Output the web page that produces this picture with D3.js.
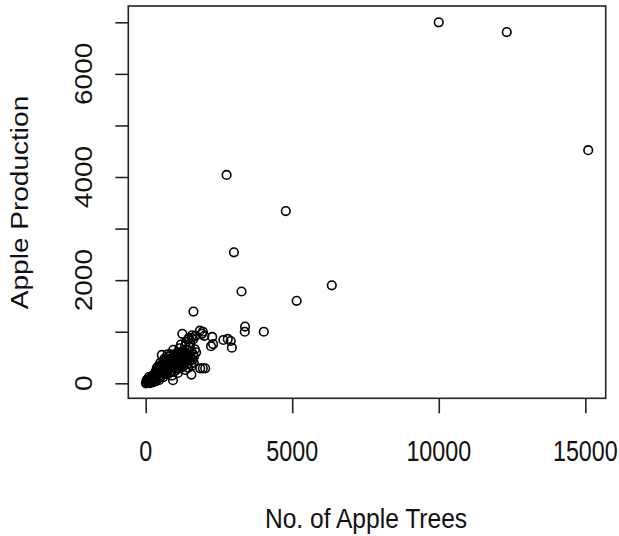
<!DOCTYPE html>
<html>
<head>
<meta charset="utf-8">
<script src="https://cdn.jsdelivr.net/npm/d3@7"></script>
<style>
  html, body { margin: 0; padding: 0; background: #fff; }
  svg { display: block; }
  text { font-family: "Liberation Sans", Arial, sans-serif; fill: #111; }
</style>
</head>
<body>
<svg id="chart" width="619" height="536"></svg>
<script>
// ---- data ----
const trees = [
  10000, 12320, 15100, 2760, 4780, 3010, 3270, 6350, 5150, 1630, 3380, 3390, 4030,
  1250, 1570, 1620, 1850, 1920, 2000, 2270, 2300, 2650, 2800, 2900, 2940, 1700, 1580, 1950, 2230,
  940, 550, 1860, 1950, 2030, 1560, 930,
  20, 40, 60, 80, 100, 120, 150, 170, 200, 220, 250, 270, 300, 320, 350, 380, 400, 420, 450, 480,
  500, 520, 550, 580, 600, 620, 650, 680, 700, 720, 750, 780, 800, 820, 850, 870, 900, 920, 950, 980,
  1000, 1020, 1050, 1080, 1100, 1130, 1150, 1180, 1200, 1230, 1260, 1300, 1330, 1360, 1400, 1430,
  1460, 1500, 1530, 1560, 1600, 1650, 700, 600, 450, 350, 260, 150, 10, 30, 110, 500, 380, 820,
  1000, 1200, 1350, 1450, 1100, 900, 1300, 1400, 1500, 1250, 1050, 800, 650, 550, 750, 1150, 1380,
  1450, 1520, 1200, 1340, 1480,
  50, 90, 130, 180, 230, 280, 330, 360, 410, 440, 470, 510, 560, 590, 630, 660, 690, 730, 760, 790,
  830, 860, 890, 930, 960, 990, 1030, 1060, 1090, 1120, 1160, 1190, 1240, 1280, 1320, 1370, 1420, 1470,
  1550, 1620, 1680, 1720, 1640, 1580, 420, 640
];
const production = [
  7000, 6810, 4520, 4040, 3340, 2540, 1780, 1900, 1600, 1390, 1000, 1100, 1000,
  960, 880, 850, 1020, 960, 920, 900, 760, 840, 860, 820, 690, 920, 930, 1000, 720,
  650, 550, 290, 290, 290, 170, 60,
  10, 30, 20, 50, 15, 60, 40, 90, 70, 120, 100, 150, 80, 180, 130, 200, 160, 90, 230, 190,
  260, 140, 300, 220, 340, 270, 180, 380, 310, 420, 260, 360, 450, 300, 400, 480, 350, 520, 420, 300,
  460, 380, 500, 420, 350, 560, 460, 400, 520, 360, 480, 420, 600, 450, 520, 380,
  560, 440, 500, 620, 460, 520, 180, 120, 60, 40, 20, 5, 0, 60, 120, 400, 300, 200,
  240, 300, 260, 300, 200, 150, 520, 650, 700, 620, 580, 520, 440, 360, 560, 680, 800,
  860, 780, 750, 720, 880,
  40, 10, 80, 30, 150, 60, 220, 100, 250, 130, 320, 200, 160, 400, 240, 330, 470, 200, 400, 280,
  330, 560, 240, 400, 300, 540, 330, 470, 560, 280, 380, 560, 420, 330, 450, 560, 440, 640,
  380, 560, 660, 600, 400, 340, 330, 480
];
const xTicks = [0, 5000, 10000, 15000];
const yTicks = [0, 1000, 2000, 3000, 4000, 5000, 6000, 7000];
const yTickLabels = [0, 2000, 4000, 6000];
const xTitle = "No. of Apple Trees";
const yTitle = "Apple Production";

// ---- layout ----
const svg = d3.select("#chart");
const box = { left: 128.3, right: 605.7, top: 6, bottom: 398.3 };
const x = d3.scaleLinear().domain([0, 15000]).range([145.7, 585.3]);
const y = d3.scaleLinear().domain([0, 7000]).range([383.3, 22.3]);
const fsTick = 23.3, syTick = 1.24;
const fsTitle = 24.6, syTitle = 1.14;

// ticks
svg.append("g")
  .attr("transform", `translate(0,${box.bottom})`)
  .call(d3.axisBottom(x).tickValues(xTicks).tickSize(15).tickSizeOuter(0).tickFormat(""))
  .call(g => g.select(".domain").remove())
  .call(g => g.selectAll("line").attr("stroke", "#222").attr("stroke-width", 1.6));

svg.append("g")
  .attr("transform", `translate(${box.left},0)`)
  .call(d3.axisLeft(y).tickValues(yTicks).tickSize(13).tickSizeOuter(0).tickFormat(""))
  .call(g => g.select(".domain").remove())
  .call(g => g.selectAll("line").attr("stroke", "#222").attr("stroke-width", 1.6));

// box
svg.append("rect")
  .attr("x", box.left).attr("y", box.top)
  .attr("width", box.right - box.left).attr("height", box.bottom - box.top)
  .attr("fill", "none").attr("stroke", "#222").attr("stroke-width", 1.6);

// tick labels
svg.append("g").selectAll("text").data(xTicks).join("text")
  .attr("transform", d => `translate(${x(d)},460.7) scale(1,${syTick})`)
  .attr("text-anchor", "middle").attr("font-size", fsTick)
  .text(d => d);

svg.append("g").selectAll("text").data(yTickLabels).join("text")
  .attr("transform", d => `translate(92,${y(d)}) scale(1,${syTitle}) rotate(-90)`)
  .attr("text-anchor", "middle").attr("font-size", fsTitle)
  .text(d => d);

// axis titles
svg.append("text")
  .attr("transform", `translate(366,528.3) scale(1,${syTitle})`)
  .attr("text-anchor", "middle").attr("font-size", fsTitle)
  .text(xTitle);

svg.append("text")
  .attr("transform", `translate(28,202.5) scale(1,${syTitle}) rotate(-90)`)
  .attr("text-anchor", "middle").attr("font-size", fsTitle)
  .text(yTitle);

// points
svg.append("g").selectAll("circle").data(d3.range(trees.length)).join("circle")
  .attr("cx", i => x(trees[i]))
  .attr("cy", i => y(production[i]))
  .attr("r", 4.3)
  .attr("fill", "none")
  .attr("stroke", "#000")
  .attr("stroke-width", 1.6);
</script>
</body>
</html>
